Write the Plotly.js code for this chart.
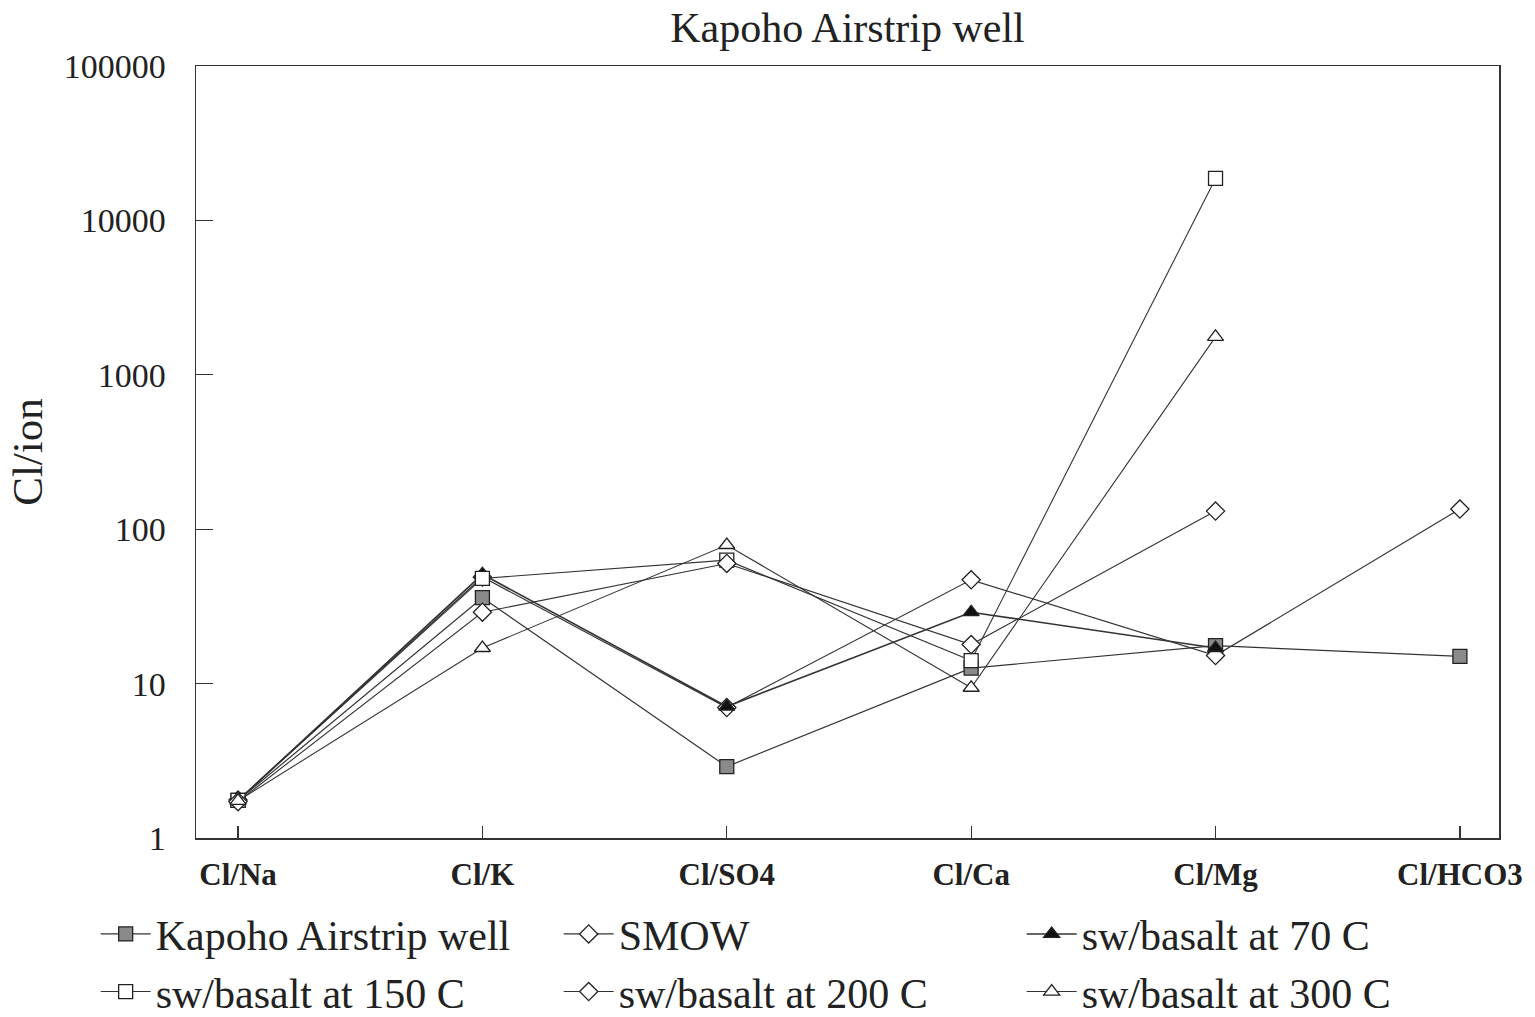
<!DOCTYPE html>
<html>
<head>
<meta charset="utf-8">
<script src="https://cdn.plot.ly/plotly-3.0.1.min.js"></script>
<style>
  html, body { margin: 0; padding: 0; background: #ffffff; }
  #chart { width: 1535px; height: 1017px; }
</style>
</head>
<body>
<div id="chart"></div>
<script>
// Ratio categories along the x axis
const ratios = ["Cl/Na", "Cl/K", "Cl/SO4", "Cl/Ca", "Cl/Mg", "Cl/HCO3"];

// Cl/ion ratios for each water
const kapohoWell = [1.75, 36, 2.9, 12.6, 17.6, 15];
const smow       = [1.76, 49, 7.0, 47, 15.2, 135];
const basalt70   = [1.75, 51, 7.1, 29, 17.0];
const basalt150  = [1.75, 48, 63, 14.1, 18700];
const basalt200  = [1.72, 29, 60, 17.9, 131];
const basalt300  = [1.74, 17, 79, 9.4, 1760];

// Decade ticks on the log axis
const yTickVals = [1, 10, 100, 1000, 10000, 100000];
const yTickText = ["1", "10", "100", "1000", "10000", "100000"];

const serif = "Liberation Serif, Times New Roman, serif";
const ink = "#333333";

function series(name, values, symbol, fill, lineWidth) {
  return {
    type: "scatter",
    mode: "lines+markers",
    name: name,
    x: ratios.slice(0, values.length),
    y: values,
    line: { color: ink, width: lineWidth },
    marker: {
      symbol: symbol,
      size: 14,
      color: fill,
      line: { color: "#222222", width: 1.3 }
    }
  };
}

const traces = [
  series("Kapoho Airstrip well", kapohoWell, "square", "#8a8a8a", 1.2),
  series("SMOW", smow, "diamond", "#ffffff", 1.2),
  series("sw/basalt at 70 C", basalt70, "triangle-up", "#111111", 1.6),
  series("sw/basalt at 150 C", basalt150, "square", "#ffffff", 1.1),
  series("sw/basalt at 200 C", basalt200, "diamond", "#ffffff", 1.1),
  series("sw/basalt at 300 C", basalt300, "triangle-up", "#ffffff", 1.1)
];

const layout = {
  width: 1535,
  height: 1017,
  paper_bgcolor: "#ffffff",
  plot_bgcolor: "#ffffff",
  margin: { l: 196, r: 36, t: 66, b: 179, autoexpand: false },
  font: { family: serif, color: "#222222" },
  title: {
    text: "Kapoho Airstrip well",
    font: { family: serif, size: 42, color: "#222222" },
    x: 0.5521, xanchor: "center",
    y: 0.973, yanchor: "middle"
  },
  showlegend: true,
  legend: {
    orientation: "h",
    x: -0.077, xanchor: "left",
    y: -0.0805, yanchor: "top",
    font: { family: serif, size: 42, color: "#222222" },
    entrywidth: 398,
    entrywidthmode: "pixels",
    itemwidth: 50,
    tracegroupgap: 0,
    bgcolor: "rgba(0,0,0,0)"
  },
  xaxis: {
    type: "category",
    range: [-0.172, 5.16],
    showgrid: false,
    zeroline: false,
    showline: true,
    mirror: true,
    linecolor: ink,
    linewidth: 1.5,
    ticks: "inside",
    ticklen: 12,
    tickwidth: 1.2,
    tickcolor: ink,
    tickfont: { family: serif, size: 31, color: "#222222", weight: "bold" },
    ticklabelstandoff: 8
  },
  yaxis: {
    type: "log",
    range: [0, 5],
    showgrid: false,
    zeroline: false,
    showline: true,
    mirror: true,
    linecolor: ink,
    linewidth: 1.5,
    ticks: "inside",
    ticklen: 17,
    tickwidth: 1.2,
    tickcolor: ink,
    tickvals: yTickVals,
    ticktext: yTickText,
    tickfont: { family: serif, size: 34, color: "#222222" },
    ticklabelstandoff: 22,
    title: {
      text: "Cl/ion",
      font: { family: serif, size: 43, color: "#222222" },
      standoff: 7
    }
  }
};

Plotly.newPlot("chart", traces, layout, { staticPlot: true, displayModeBar: false });
</script>
</body>
</html>
